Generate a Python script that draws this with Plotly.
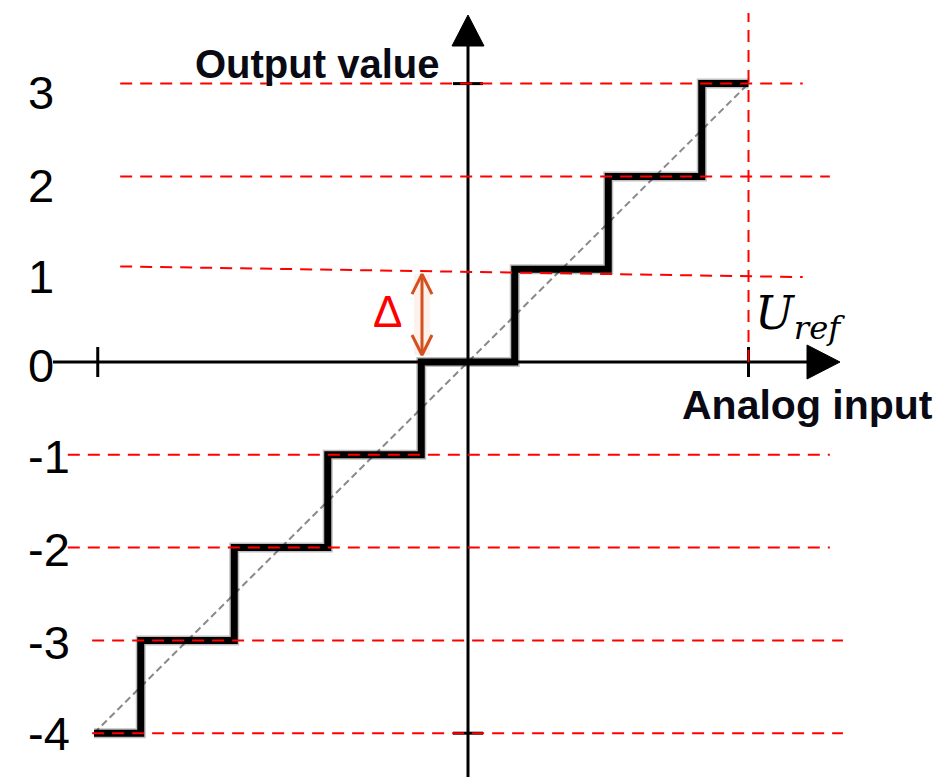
import plotly.graph_objects as go

# ---------------- data ----------------
step_edges = [-4, -3.5, -2.5, -1.5, -0.5, 0.5, 1.5, 2.5, 3]     # analog input (in LSB units)
output_levels = [-4, -3, -2, -1, 0, 1, 2, 3]                     # output code
tick_labels = ["3", "2", "1", "0", "-1", "-2", "-3", "-4"]
tick_values = [3, 2, 1, 0, -1, -2, -3, -4]

grid_levels = [3, 2, 1, -1, -2, -3, -4]
grid_start = [-3.72, -3.72, -3.72, -4.28, -4.28, -4.02, -4.02]
grid_end = [3.58, 3.87, 3.58, 3.87, 3.87, 4.01, 4.01]
grid_tilt_start = [0, 0, 0.03, 0, 0, 0, 0]
grid_tilt_end = [0, 0, -0.085, 0, 0, 0, 0]

u_ref = 3
delta_level = 1

# ---------------- geometry helpers ----------------
OFF = 8                      # page body margin
W, H = 943 - OFF, 777 - OFF
PX = 93.5                    # px per x unit
PY = 92.8                    # px per y unit
X0, Y0 = 468, 362            # page pixel of the origin
XR = [(OFF - X0) / PX, (OFF + W - X0) / PX]
YR = [(Y0 - OFF - H) / PY, (Y0 - OFF) / PY]


def xu(p):
    return (p - X0) / PX


def yu(p):
    return (Y0 - p) / PY


fig = go.Figure()

# ideal transfer (diagonal)
fig.add_trace(go.Scatter(x=[step_edges[0], step_edges[-1]], y=[output_levels[0], output_levels[-1]],
                         mode="lines", line=dict(color="#8a8a8a", width=2, dash="7px,4px"),
                         hoverinfo="skip"))

# axes
x_axis_start, x_axis_tip = xu(53), xu(840)
y_axis_bottom, y_axis_tip = YR[0] - 0.1, yu(15)
fig.add_trace(go.Scatter(x=[x_axis_start, x_axis_tip - 20 / PX], y=[0, 0], mode="lines",
                         line=dict(color="black", width=3), hoverinfo="skip"))
fig.add_trace(go.Scatter(x=[0, 0], y=[y_axis_bottom, y_axis_tip - 20 / PY], mode="lines",
                         line=dict(color="black", width=3), hoverinfo="skip"))
# arrow heads
fig.add_trace(go.Scatter(x=[x_axis_tip, x_axis_tip - 33 / PX, x_axis_tip - 33 / PX, x_axis_tip],
                         y=[0, 17 / PY, -17 / PY, 0], mode="lines", fill="toself",
                         fillcolor="black", line=dict(color="black", width=1), hoverinfo="skip"))
fig.add_trace(go.Scatter(x=[0, -16 / PX, 16 / PX, 0],
                         y=[y_axis_tip, y_axis_tip - 31 / PY, y_axis_tip - 31 / PY, y_axis_tip],
                         mode="lines", fill="toself",
                         fillcolor="black", line=dict(color="black", width=1), hoverinfo="skip"))
# axis ticks
tl = 15
for xv in [step_edges[0] + 0.04, u_ref]:
    fig.add_trace(go.Scatter(x=[xv, xv], y=[-tl / PY, tl / PY], mode="lines",
                             line=dict(color="black", width=3), hoverinfo="skip"))
for yv in [output_levels[-1], output_levels[0]]:
    fig.add_trace(go.Scatter(x=[-tl / PX, tl / PX], y=[yv, yv], mode="lines",
                             line=dict(color="black", width=3), hoverinfo="skip"))

# staircase
stair_y = output_levels + [output_levels[-1]]
fig.add_trace(go.Scatter(x=step_edges, y=stair_y, mode="lines", line_shape="hv",
                         line=dict(color="rgba(0,0,0,0.25)", width=10), hoverinfo="skip"))
fig.add_trace(go.Scatter(x=step_edges, y=stair_y, mode="lines", line_shape="hv",
                         line=dict(color="black", width=7), hoverinfo="skip"))

# red dashed level lines
for lv, x0, x1, t0, t1 in zip(grid_levels, grid_start, grid_end, grid_tilt_start, grid_tilt_end):
    fig.add_trace(go.Scatter(x=[x0, x1], y=[lv + t0, lv + t1], mode="lines",
                             line=dict(color="#ff0000", width=2, dash="12px,8px"), hoverinfo="skip"))
# U_ref vertical
fig.add_trace(go.Scatter(x=[u_ref, u_ref], y=[0, yu(13)], mode="lines",
                         line=dict(color="#ff0000", width=2, dash="12px,8px"), hoverinfo="skip"))

# delta double arrow
ax_x = xu(422)
a_top, a_bot = delta_level - 5 / PY, 0 + 7 / PY
arrow_col = "#d4501e"
fig.add_trace(go.Scatter(x=[ax_x, ax_x], y=[a_bot, a_top], mode="lines",
                         line=dict(color="rgba(240,140,100,0.12)", width=16), hoverinfo="skip"))
fig.add_trace(go.Scatter(x=[ax_x, ax_x], y=[a_bot, a_top], mode="lines",
                         line=dict(color=arrow_col, width=3), hoverinfo="skip"))
fig.add_trace(go.Scatter(x=[ax_x - 10 / PX, ax_x, ax_x + 10 / PX],
                         y=[a_top - 20 / PY, a_top, a_top - 20 / PY], mode="lines",
                         line=dict(color=arrow_col, width=3), hoverinfo="skip"))
fig.add_trace(go.Scatter(x=[ax_x - 10 / PX, ax_x, ax_x + 10 / PX],
                         y=[a_bot + 20 / PY, a_bot, a_bot + 20 / PY], mode="lines",
                         line=dict(color=arrow_col, width=3), hoverinfo="skip"))

annotations = []
label_shift = [-9, -9, -7, -3, -2, -2, -2, 0]
for txt, v, s in zip(tick_labels, tick_values, label_shift):
    annotations.append(dict(x=xu(26), y=v, text=txt, showarrow=False,
                            xanchor="left", yanchor="middle", yshift=s,
                            font=dict(family="Liberation Sans, Arial", size=47, color="black")))
annotations.append(dict(x=xu(317), y=yu(64), text="<b>Output value</b>",
                        showarrow=False, xanchor="center", yanchor="middle",
                        font=dict(family="Liberation Sans, Arial", size=40, color="#0a0a14")))
annotations.append(dict(x=xu(807), y=yu(405), text="<b>Analog input</b>",
                        showarrow=False, xanchor="center", yanchor="middle",
                        font=dict(family="Liberation Sans, Arial", size=41, color="#0a0a14")))
annotations.append(dict(x=xu(387), y=yu(311), text="Δ",
                        showarrow=False, xanchor="center", yanchor="middle",
                        font=dict(family="Liberation Sans, Arial", size=44, color="#ff0000")))
annotations.append(dict(x=xu(753), y=yu(316), text="<i>U</i><sub><i>ref</i></sub>",
                        showarrow=False, xanchor="left", yanchor="middle",
                        font=dict(family="DejaVu Serif", size=46, color="black")))

fig.update_layout(
    width=W, height=H, margin=dict(l=0, r=0, t=0, b=0),
    paper_bgcolor="white", plot_bgcolor="white", showlegend=False,
    xaxis=dict(range=XR, visible=False, fixedrange=True),
    yaxis=dict(range=YR, visible=False, fixedrange=True),
    annotations=annotations,
)

fig.write_html("out.html")
